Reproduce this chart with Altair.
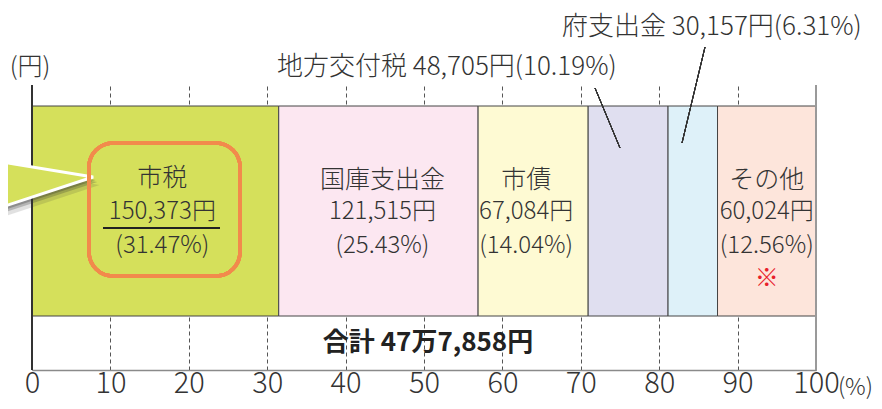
import altair as alt
import pandas as pd

# ---- data ----
categories = ["市税", "国庫支出金", "市債", "地方交付税", "府支出金", "その他"]
amounts = [150373, 121515, 67084, 48705, 30157, 60024]
percents = [31.47, 25.43, 14.04, 10.19, 6.31, 12.56]
colors = ["#d5e05b", "#fce7f1", "#fefad3", "#e0dff0", "#def1f9", "#fde5db"]
tick_values = [0, 10, 20, 30, 40, 50, 60, 70, 80, 90, 100]
total_label = "合計 47万7,858円"
yen_unit = "(円)"
pct_unit = "(%)"
note_mark = "※"

FONT = "Noto Sans CJK JP"
TXT = "#333333"
W = 300  # light weight for the regular texts

# ---- tables built from the arrays ----
starts, ends, acc = [], [], 0.0
for p in percents:
    starts.append(acc)
    acc += p
    ends.append(acc)
bars = pd.DataFrame({"category": categories, "start": starts, "end": ends,
                     "color": colors})
bars["mid"] = (bars["start"] + bars["end"]) / 2

x_axis = alt.Axis(values=tick_values, grid=True, gridDash=[4, 3], gridColor="#555555",
                  gridWidth=1, ticks=False, domainColor="#8a8a8a", domainWidth=1.5,
                  labelFont=FONT, labelFontSize=29, labelFontWeight=W, labelColor=TXT,
                  labelPadding=-1, labelFlush=False, labelOverlap=False, title=None)
x_scale = alt.Scale(domain=[0, 100], nice=False)
y_scale = alt.Scale(domain=[0, 285], range=[0, 285], nice=False, zero=False)

layers = []

# stacked bar segments
layers.append(alt.Chart(bars).mark_rect(stroke="#444444", strokeWidth=1).encode(
    x=alt.X("start:Q", scale=x_scale, axis=x_axis),
    x2="end:Q",
    y=alt.value(21), y2=alt.value(231),
    fill=alt.Color("color:N", scale=None),
))

# frame lines at 0 and 100
layers.append(alt.Chart(bars).mark_rule(color="#333333", strokeWidth=1.5).encode(
    x=alt.value(0), y=alt.value(0), y2=alt.value(285)))
layers.append(alt.Chart(bars).mark_rule(color="#9a9a9a", strokeWidth=1.5).encode(
    x=alt.value(784), y=alt.value(0), y2=alt.value(285)))

# callout pointer (green wedge with white outline and shadow)
callout = pd.DataFrame({"x": [-4.6, 7.8], "y": [76.0, 92.0], "y2": [124.0, 92.0]})
for off, op in [(8, 0.15), (5, 0.25), (3, 0.3)]:
    sh = callout.copy()
    sh["y"] = sh["y"] + off
    sh["y2"] = sh["y2"] + off
    sh["x"] = sh["x"] + off / 7.84 * 0.8
    layers.append(alt.Chart(sh).mark_area(color="#333333", opacity=op, clip=False).encode(
        x=alt.X("x:Q", scale=x_scale, axis=x_axis),
        y=alt.Y("y:Q", scale=y_scale, axis=None), y2="y2:Q"))
layers.append(alt.Chart(callout).mark_area(fill=colors[0], stroke="white", strokeWidth=3,
                                           clip=False).encode(
    x=alt.X("x:Q", scale=x_scale, axis=x_axis),
    y=alt.Y("y:Q", scale=y_scale, axis=None), y2="y2:Q"))

# orange rounded highlight box and underline for 市税
layers.append(alt.Chart(bars).mark_rect(fillOpacity=0, stroke="#f28a4c", strokeWidth=3.5,
                                        cornerRadius=24).encode(
    x=alt.value(57), x2=alt.value(208), y=alt.value(58), y2=alt.value(191)))
layers.append(alt.Chart(bars).mark_rule(color="#222222", strokeWidth=1.5).encode(
    x=alt.value(71), x2=alt.value(188), y=alt.value(143)))

# labels inside the segments
inside = [0, 1, 2, 5]
dx_tweak = {0: 7, 1: 4, 2: -7, 5: 0}
line_y = [93, 127, 161]
for i in inside:
    lines = [categories[i], f"{amounts[i]:,}円", f"({percents[i]:.2f}%)"]
    for k, t in enumerate(lines):
        d = pd.DataFrame({"mid": [bars["mid"][i]], "t": [t]})
        layers.append(alt.Chart(d).mark_text(
            font=FONT, fontSize=25 if k == 0 else 24, fontWeight=W, color=TXT,
            baseline="middle", align="center", dx=dx_tweak[i]).encode(
            x=alt.X("mid:Q", scale=x_scale, axis=x_axis),
            y=alt.value(line_y[k] + (2 if (i != 0 and k == 0) else 0)),
            text="t:N"))

# ※ mark under その他
d = pd.DataFrame({"mid": [bars["mid"][5]], "t": [note_mark]})
layers.append(alt.Chart(d).mark_text(font=FONT, fontSize=24,
                                     color="#e8202a", baseline="middle").encode(
    x=alt.X("mid:Q", scale=x_scale, axis=x_axis), y=alt.value(194), text="t:N"))

# outside labels with leader lines
ext = pd.DataFrame({
    "t": [f"{categories[3]} {amounts[3]:,}円({percents[3]:.2f}%)",
          f"{categories[4]} {amounts[4]:,}円({percents[4]:.2f}%)"],
})
layers.append(alt.Chart(ext.iloc[[0]]).mark_text(
    font=FONT, fontSize=26, fontWeight=W, color=TXT, align="left",
    baseline="middle").encode(
    x=alt.value(245), y=alt.value(-18), text="t:N"))
layers.append(alt.Chart(ext.iloc[[1]]).mark_text(
    font=FONT, fontSize=26, fontWeight=W, color=TXT, align="left",
    baseline="middle").encode(
    x=alt.value(530), y=alt.value(-58), text="t:N"))
layers.append(alt.Chart(bars).mark_rule(color="#333333", strokeWidth=1).encode(
    x=alt.value(563), y=alt.value(3), x2=alt.value(588), y2=alt.value(63)))
layers.append(alt.Chart(bars).mark_rule(color="#333333", strokeWidth=1).encode(
    x=alt.value(673), y=alt.value(-38), x2=alt.value(650), y2=alt.value(58)))

# unit labels and total
layers.append(alt.Chart(pd.DataFrame({"t": [yen_unit]})).mark_text(
    font=FONT, fontSize=25, fontWeight=W, color=TXT, baseline="middle").encode(
    x=alt.value(-2), y=alt.value(-18), text="t:N"))
layers.append(alt.Chart(pd.DataFrame({"t": [pct_unit]})).mark_text(
    font=FONT, fontSize=23, fontWeight=W, color=TXT, baseline="middle",
    align="right").encode(
    x=alt.value(841), y=alt.value(303), text="t:N"))
layers.append(alt.Chart(pd.DataFrame({"t": [total_label]})).mark_text(
    font=FONT, fontSize=26, fontWeight="bold", color="#222222",
    baseline="middle").encode(
    x=alt.value(396), y=alt.value(258), text="t:N"))

chart = alt.layer(*layers).properties(
    width=784, height=285,
    autosize=alt.AutoSizeParams(type="none"),
    padding={"left": 24, "top": 77, "right": 58, "bottom": 31},
).configure_view(stroke=None)

chart.save("out.html", embed_options={"renderer": "svg", "actions": False})
